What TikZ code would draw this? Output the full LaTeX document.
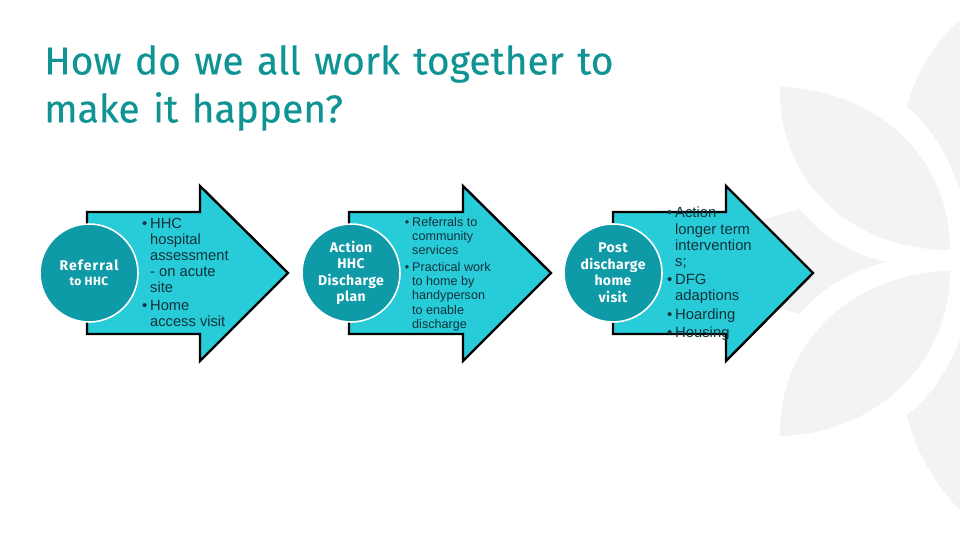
\documentclass[tikz,border=0pt]{standalone}
\usepackage{fontspec}
\setmainfont{Liberation Sans}
\newfontfamily\titlefont[WordSpace=1.3,FakeBold=0.25]{Fira Sans}
\newfontfamily\circlefont[LetterSpace=2.5]{Fira Sans}
\usetikzlibrary{positioning}
\definecolor{hhcteal}{HTML}{0E9AA7}
\definecolor{hhctitle}{HTML}{0F9393}
\definecolor{hhcarrow}{HTML}{27CCD8}
\definecolor{hhcpetal}{HTML}{F3F3F3}
\definecolor{hhctext}{HTML}{12323A}
\newcommand{\bul}{\leavevmode\llap{\textbullet\hspace{3pt}}}

\begin{document}
\begin{tikzpicture}[x=1pt,y=-1pt,
    petal/.style={fill=hhcpetal,draw=none},
    bigarrow/.style={draw=black,line width=2.4pt,fill=hhcarrow,miter limit=8},
    stage/.style={circle,draw=white,line width=1.6pt,fill=hhcteal,minimum size=98pt,
      inner sep=0pt,text=white,align=center,font=\circlefont\bfseries\fontsize{14}{16.5}\selectfont},
    bullets/.style={anchor=north west,inner sep=0pt,align=left,text=hhctext}]
    \useasboundingbox (0,0) rectangle (960,540);

    % background leaves
    \fill[petal] (780,87) .. controls (880,90) and (950,160) .. (950,250)
      .. controls (850,250) and (778,180) .. (780,87) -- cycle;
    \fill[petal] (780,436) .. controls (880,433) and (950,360) .. (950,271)
      .. controls (850,273) and (778,345) .. (780,436) -- cycle;
    \fill[petal] (887,262) .. controls (850,254) and (820,235) .. (800,209)
      -- (740,226) -- (740,298) -- (800,314) .. controls (820,290) and (850,270) .. (887,262) -- cycle;
    \fill[petal] (907,107) .. controls (915,75) and (935,40) .. (960,20)
      -- (960,190) .. controls (948,155) and (930,125) .. (907,107) -- cycle;
    \fill[petal] (907,415) .. controls (915,450) and (935,485) .. (960,510)
      -- (960,340) .. controls (948,370) and (930,398) .. (907,415) -- cycle;

    \node[anchor=north west,inner sep=0pt,align=left,text=hhctitle,
      font=\titlefont\fontsize{39}{48}\selectfont] (title) at (44,45)
      {How do we all work together to\\make it happen?};

    \foreach \l/\h/\t in {87/200/288,349/463/551,613/726/813}
      \draw[bigarrow] (\l,212) -- (\h,212) -- (\h,186) -- (\t,273) -- (\h,361)
        -- (\h,334) -- (\l,334) -- cycle;

    \node[stage] (referral) at (89,273)
      {\addfontfeature{LetterSpace=8}Referral\\[-1pt]{\addfontfeature{LetterSpace=3}\fontsize{12}{14}\selectfont to HHC}};
    \node[stage] (action) at (351,273) {Action\\HHC\\Discharge\\plan};
    \node[stage] (post) at (613,273) {Post\\discharge\\home\\visit};

    \node[bullets,font=\fontsize{14.7}{16}\selectfont] (hhclist) at (150,218)
      {\bul HHC\\hospital\\assessment\\- on acute\\site\\[2.5pt]\bul Home\\access visit};
    \node[bullets,font=\fontsize{12.6}{14.2}\selectfont] (actionlist) at (412,217)
      {\bul Referrals to\\community\\services\\[2.5pt]\bul Practical work\\to home by\\handyperson\\to enable\\discharge};
    \node[bullets,font=\fontsize{14.8}{16.2}\selectfont] (postlist) at (675,207)
      {\bul Action\\longer term\\intervention\\s;\\[2pt]\bul DFG\\adaptions\\[2pt]\bul Hoarding\\[2pt]\bul Housing};
  \end{tikzpicture}
\end{document}
